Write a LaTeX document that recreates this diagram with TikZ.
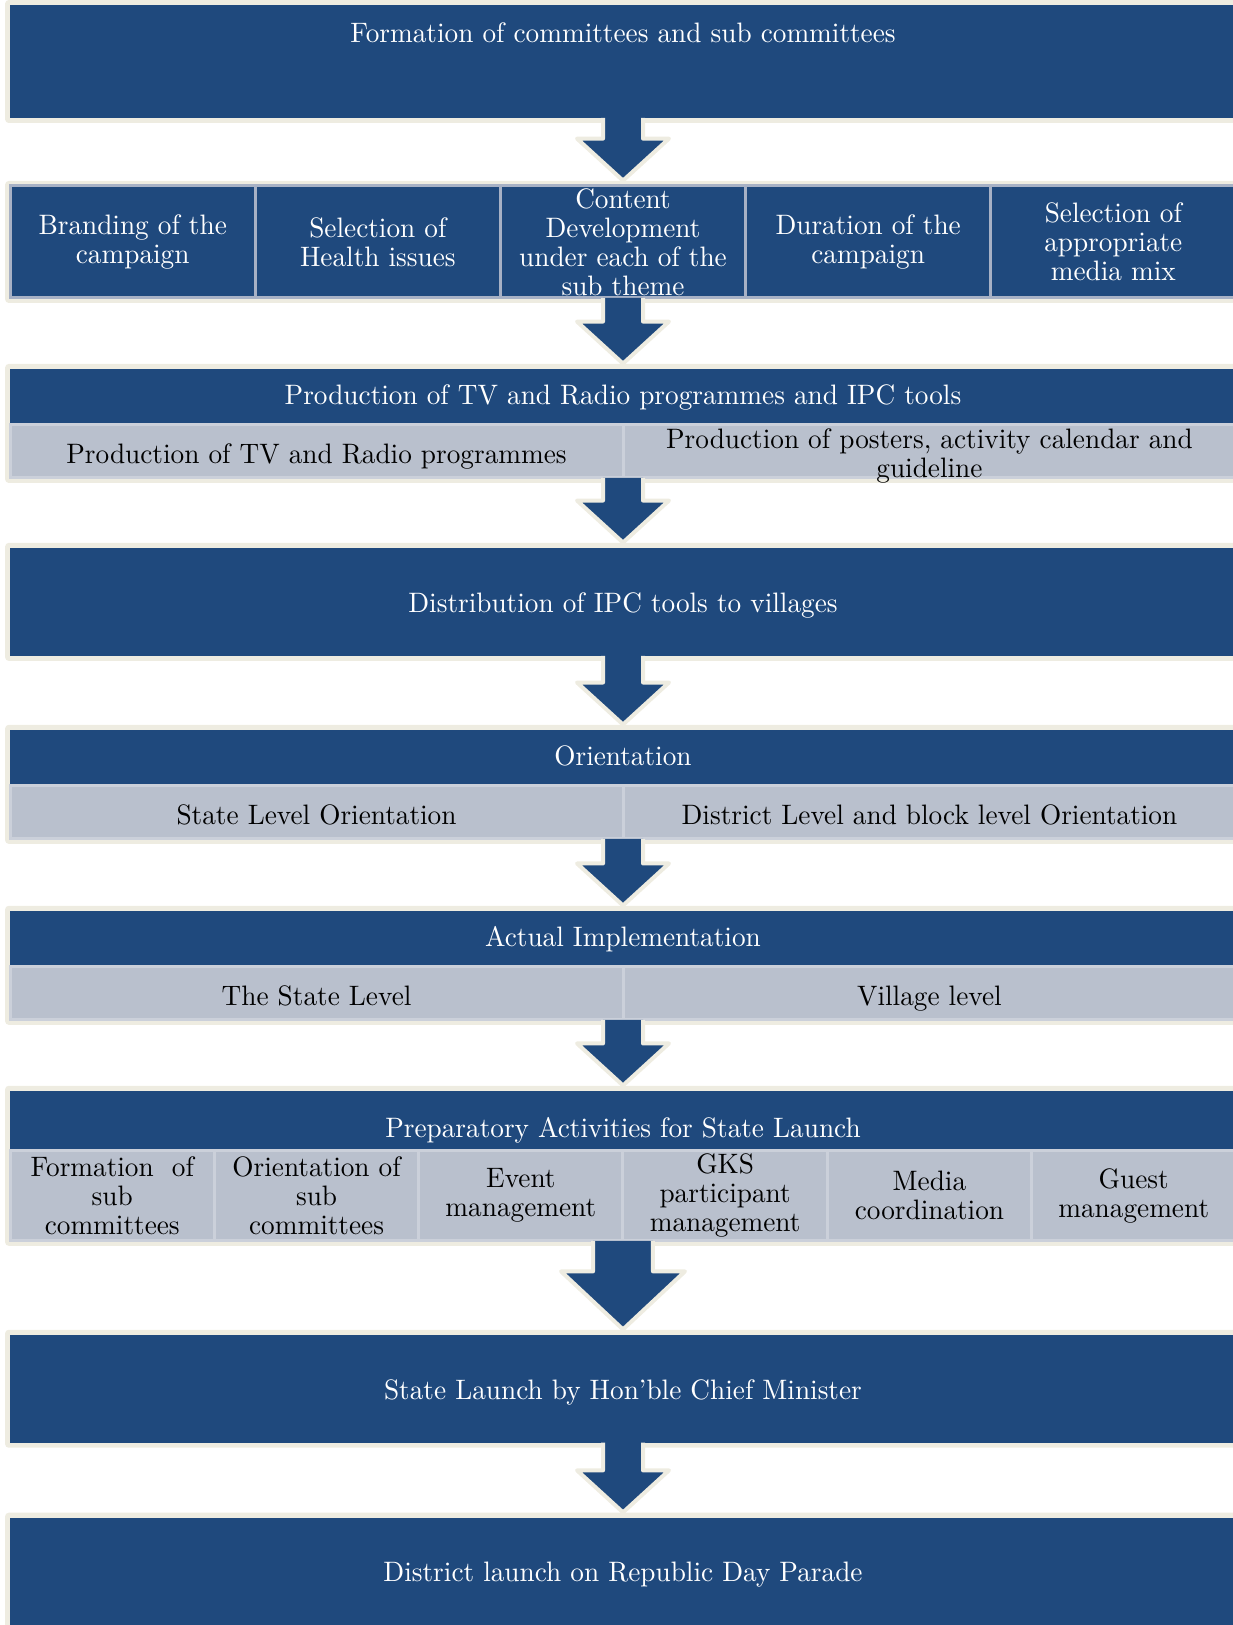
\documentclass[tikz,border=0pt]{standalone}
\usepackage{fontspec}
\setmainfont{lmroman10-regular.otf}[FakeStretch=0.97]
\usepackage{tikz}
\usetikzlibrary{positioning,calc,fit,backgrounds}

\definecolor{navy}{HTML}{1F497D}
\definecolor{cream}{HTML}{EEECE1}
\definecolor{silver}{HTML}{B9C0CD}
\definecolor{mist}{HTML}{CBD0DA}
\definecolor{steel}{HTML}{A7B1C5}

\begin{document}
\begin{tikzpicture}[x=0.02cm, y=-0.02cm, node distance=1.5cm, auto,
    font=\fontsize{16}{16.5}\selectfont]
  \tikzstyle{head} = [rectangle, fill=navy, text=white, minimum width=24.52cm,
    text height=0.4cm, text depth=0.1cm, inner sep=0pt, outer sep=0pt, align=center]
  \tikzstyle{topic} = [rectangle, fill=navy, draw=steel, line width=0.06cm, text=white,
    minimum width=4.904cm, minimum height=2.24cm, inner sep=0pt, outer sep=0pt, align=center]
  \tikzstyle{sub} = [rectangle, fill=silver, draw=mist, line width=0.06cm, text=black,
    minimum width=12.26cm, minimum height=1.06cm, inner sep=0pt, outer sep=0pt, align=center]
  \tikzstyle{level} = [sub, text height=0.5cm, text depth=0cm]
  \tikzstyle{task} = [sub, minimum width=4.0867cm, minimum height=1.8cm]
  \tikzstyle{frame} = [fill=cream, inner sep=0.1cm, rounded corners=2pt]
  \tikzstyle{line} = [draw=cream, fill=navy, line width=0.08cm, line join=round,
    to path={let \p1=(\tikztostart), \p2=(\tikztotarget) in
      (\x1-0.4cm,\y1) -- (\x1-0.4cm,\y2+0.84cm) -- (\x1-0.92cm,\y2+0.84cm) -- (\x1,\y2)
      -- (\x1+0.92cm,\y2+0.84cm) -- (\x1+0.4cm,\y2+0.84cm) -- (\x1+0.4cm,\y1)}]
  \tikzstyle{bigline} = [draw=cream, fill=navy, line width=0.08cm, line join=round,
    to path={let \p1=(\tikztostart), \p2=(\tikztotarget) in
      (\x1-0.6cm,\y1) -- (\x1-0.6cm,\y2+1.16cm) -- (\x1-1.24cm,\y2+1.16cm) -- (\x1,\y2)
      -- (\x1+1.24cm,\y2+1.16cm) -- (\x1+0.6cm,\y2+1.16cm) -- (\x1+0.6cm,\y1)}]

  \useasboundingbox (0,0) rectangle (1233,1625);

  % Place nodes
  \node [head, text height=0.76cm, text depth=1.5cm] (form) at (623,61.5)
    {Formation of committees and sub committees};
  \node [topic, below of=form, node distance=3.61cm] (content)
    {Content\\Development\\under each of the\\sub theme};
  \node [topic, left of=content, node distance=4.904cm] (health) {Selection of\\Health issues};
  \node [topic, left of=health, node distance=4.904cm] (brand) {Branding of the\\campaign};
  \node [topic, right of=content, node distance=4.904cm] (duration) {Duration of the\\campaign};
  \node [topic, right of=duration, node distance=4.904cm] (media)
    {Selection of\\appropriate\\media mix};

  \node [head, minimum height=1.12cm, below of=content, node distance=3.10cm] (prod)
    {Production of TV and Radio programmes and IPC tools};
  \node [level, below of=prod, node distance=1.09cm, xshift=-6.13cm] (tvprog)
    {Production of TV and Radio programmes};
  \node [sub, right of=tvprog, node distance=12.26cm,
    label={[align=center, yshift=-0.1cm]center:Production of posters, activity calendar and\\guideline}]
    (posters) {};

  \node [head, minimum height=2.16cm, text height=0.47cm, text depth=0.03cm,
    below of=prod, node distance=4.10cm] (distrib) {Distribution of IPC tools to villages};

  \node [head, minimum height=1.12cm, below of=distrib, node distance=3.12cm] (orient) {Orientation};
  \node [level, below of=orient, node distance=1.09cm, xshift=-6.13cm] (stateor) {State Level Orientation};
  \node [level, right of=stateor, node distance=12.26cm] (distor)
    {District Level and block level Orientation};

  \node [head, minimum height=1.12cm, below of=orient, node distance=3.62cm] (impl) {Actual Implementation};
  \node [level, below of=impl, node distance=1.09cm, xshift=-6.13cm] (statelev) {The State Level};
  \node [level, right of=statelev, node distance=12.26cm] (village) {Village level};

  \node [head, text height=0.94cm, text depth=0.26cm, below of=impl, node distance=3.64cm] (prep)
    {Preparatory Activities for State Launch};
  \node [task, below of=prep, node distance=1.5cm, xshift=-10.217cm] (formsub)
    {Formation\ \ of\\sub\\committees};
  \node [task, right of=formsub, node distance=4.0867cm] (orsub) {Orientation of\\sub\\committees};
  \node [task, right of=orsub, node distance=4.0867cm] (event) {Event\\management};
  \node [task, right of=event, node distance=4.0867cm] (gks) {GKS\\participant\\management};
  \node [task, right of=gks, node distance=4.0867cm] (mediaco) {Media\\coordination};
  \node [task, right of=mediaco, node distance=4.0867cm] (guest) {Guest\\management};

  \node [head, minimum height=2.16cm, text height=0.47cm, text depth=0.03cm,
    below of=prep, node distance=5.36cm] (launch) {State Launch by Hon'ble Chief Minister};
  \node [head, minimum height=2.24cm, below of=launch, node distance=3.70cm] (district)
    {District launch on Republic Day Parade};

  % Frames behind the groups
  \begin{scope}[on background layer]
    \node [frame, fit=(form)] (f1) {};
    \node [frame, fit=(brand)(media)] (f2) {};
    \node [frame, fit=(prod)(tvprog)(posters)] (f3) {};
    \node [frame, fit=(distrib)] (f4) {};
    \node [frame, fit=(orient)(stateor)(distor)] (f5) {};
    \node [frame, fit=(impl)(statelev)(village)] (f6) {};
    \node [frame, fit=(prep)(formsub)(guest)] (f7) {};
    \node [frame, fit=(launch)] (f8) {};
    \node [frame, fit=(district)] (f9) {};
  \end{scope}

  % Draw edges
  \path [line] (form.south) to (f2.north);
  \path [line] (content.south) to (f3.north);
  \path [line] (tvprog.south east) to (f4.north);
  \path [line] (distrib.south) to (f5.north);
  \path [line] (stateor.south east) to (f6.north);
  \path [line] (statelev.south east) to (f7.north);
  \path [bigline] (event.south east) to (f8.north);
  \path [line] (launch.south) to (f9.north);
\end{tikzpicture}
\end{document}
